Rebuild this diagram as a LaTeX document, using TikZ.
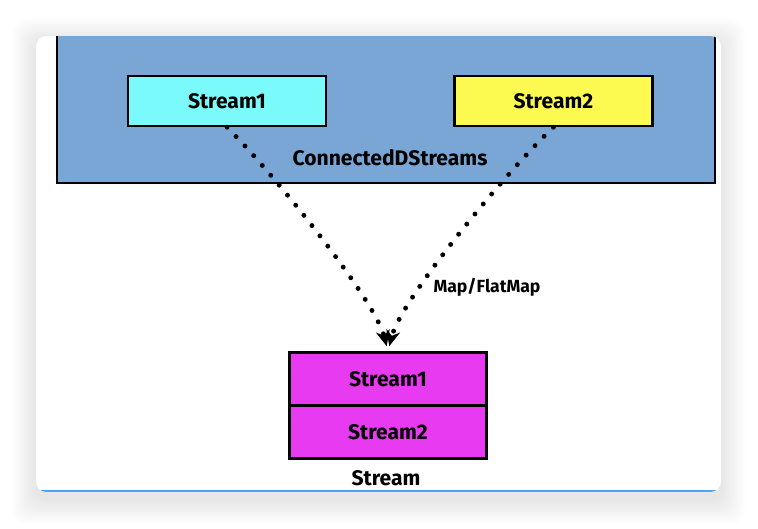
\documentclass[tikz,border=0pt]{standalone}
\usepackage{fontspec}
\setmainfont{Fira Sans}
\usetikzlibrary{arrows.meta, positioning}
\definecolor{panelblue}{RGB}{122,166,214}
\definecolor{streamcyan}{RGB}{122,250,250}
\definecolor{streamyellow}{RGB}{252,250,80}
\definecolor{streammagenta}{RGB}{232,58,240}
\definecolor{linkblue}{RGB}{78,163,238}

\begin{document}
\begin{tikzpicture}[x=0.02cm, y=-0.02cm, thick, >={Stealth[length=9pt, width=8pt]},
  box/.style={draw, line width=1.4pt, minimum width=3.96cm, minimum height=1cm, font=\bfseries\fontsize{12}{14}\selectfont},
  flow/.style={line width=2.8pt, line cap=round, dash pattern=on 0pt off 7.4pt, ->, shorten >=3pt}]
  \useasboundingbox (0,0) rectangle (758,528);
  \fill[white] (0,0) rectangle (758,528);
  % Schatten der Karte
  \foreach \k in {1,...,12} {
    \fill[black, opacity=0.008, rounded corners=8pt] (36-2*\k,42-2*\k) rectangle (721+2*\k,500+2*\k);
  }
  \fill[white, rounded corners=6pt] (36,36) rectangle (721,492);
  \begin{scope}
    \clip[rounded corners=6pt] (36,36) rectangle (721,492);
    \fill[panelblue] (57,20) rectangle (715,183);
    \draw[line width=1.4pt] (57,20) -- (57,183) -- (715,183) -- (715,20);
    \draw[line width=1.6pt, linkblue] (36,491) -- (721,491);
  \end{scope}

  % Eingangsstreams
  \node[box, fill=streamcyan] (stream1) at (227,101) {Stream1};
  \node[box, fill=streamyellow, right=2.52cm of stream1] (stream2) {Stream2};

  % Ergebnis-Stream
  \node[box, fill=streammagenta, minimum width=3.94cm, minimum height=1.06cm] (merged1) at (388,379) {Stream1};
  \node[box, fill=streammagenta, minimum width=3.94cm, minimum height=1.06cm, below=-1.4pt of merged1] (merged2) {Stream2};

  % Verbindungen
  \draw[flow] (stream1.south) .. controls (275,175) and (375,300) .. (merged1.north);
  \draw[flow] (stream2.south) .. controls (503,175) and (401,300) .. (merged1.north);

  % Beschriftungen
  \node[font=\bfseries\fontsize{12}{14}\selectfont] (connlabel) at (390,158) {ConnectedDStreams};
  \node[font=\bfseries\fontsize{10}{12}\selectfont] (maplabel) at (487,287) {Map/FlatMap};
  \node[font=\bfseries\fontsize{12}{14}\selectfont] (streamlabel) at (386,478) {Stream};
\end{tikzpicture}
\end{document}
